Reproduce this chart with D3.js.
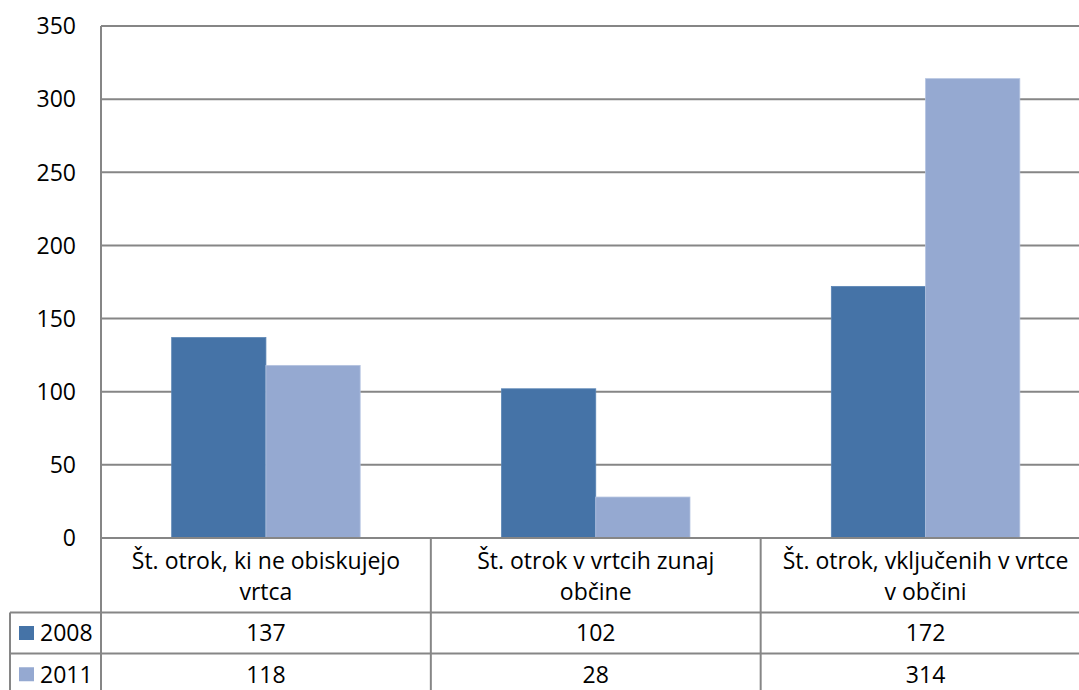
<!DOCTYPE html>
<html>
<head>
<meta charset="utf-8">
<script src="https://cdn.jsdelivr.net/npm/d3@7"></script>
<style>
  body { margin: 0; background: #fff; }
  text { font-family: "Open Sans", "Noto Sans", sans-serif; fill: #000; }
</style>
</head>
<body>
<svg id="chart" width="1079" height="690"></svg>
<script>
// data
var categories = [
  ["Št. otrok, ki ne obiskujejo", "vrtca"],
  ["Št. otrok v vrtcih zunaj", "občine"],
  ["Št. otrok, vključenih v vrtce", "v občini"]
];
var seriesNames = ["2008", "2011"];
var values2008 = [137, 102, 172];
var values2011 = [118, 28, 314];
var yTicks = [0, 50, 100, 150, 200, 250, 300, 350];

var colors = ["#4573A7", "#95A9D1"];
var gridColor = "#868686";
var fontSize = 23;

var svg = d3.select("svg#chart"),
    margin = {top: 26, left: 101, bottom: 538},
    plotRight = 1090.5,
    tableLeft = 10,
    row1 = 612.5,
    row2 = 653.5,
    row3 = 695;

var series = [values2008, values2011];

var x = d3.scaleBand()
  .domain(d3.range(categories.length))
  .range([margin.left, plotRight])
  .paddingInner(0).paddingOuter(0);

// gap width 150% like excel
var inner = d3.scaleBand()
  .domain(d3.range(series.length))
  .range([0, x.bandwidth()])
  .paddingOuter(0.75).paddingInner(0);

var y = d3.scaleLinear()
  .domain([0, 350])
  .range([margin.bottom, margin.top]);

// gridlines
svg.append("g")
  .selectAll("line")
  .data(yTicks.filter(function(d) { return d > 0; }))
  .enter().append("line")
  .attr("x1", margin.left).attr("x2", plotRight)
  .attr("y1", function(d) { return y(d); })
  .attr("y2", function(d) { return y(d); })
  .attr("stroke", gridColor).attr("stroke-width", 2);

// bars
series.forEach(function(vals, si) {
  svg.append("g")
    .selectAll("rect")
    .data(vals)
    .enter().append("rect")
    .attr("x", function(d, i) { return x(i) + inner(si); })
    .attr("y", function(d) { return y(d); })
    .attr("width", inner.bandwidth())
    .attr("height", function(d) { return y(0) - y(d); })
    .attr("fill", colors[si])
    .attr("stroke", si == 0 ? "#5a84b4" : "#b4c3e0")
    .attr("stroke-width", 0.8);
});

// y axis labels
svg.append("g")
  .selectAll("text")
  .data(yTicks)
  .enter().append("text")
  .attr("x", 76)
  .attr("y", function(d) { return y(d); })
  .attr("dy", "0.36em")
  .attr("text-anchor", "end")
  .style("font-size", fontSize + "px")
  .text(function(d) { return d; });

// table lines
var lines = svg.append("g")
  .attr("stroke", gridColor).attr("stroke-width", 2);

lines.append("line")
  .attr("x1", margin.left).attr("x2", margin.left)
  .attr("y1", margin.top).attr("y2", row3);
lines.append("line")
  .attr("x1", margin.left).attr("x2", plotRight)
  .attr("y1", y(0)).attr("y2", y(0));
[row1, row2].forEach(function(r) {
  lines.append("line")
    .attr("x1", tableLeft).attr("x2", plotRight)
    .attr("y1", r).attr("y2", r);
});
lines.append("line")
  .attr("x1", tableLeft).attr("x2", tableLeft)
  .attr("y1", row1).attr("y2", row3);
d3.range(1, categories.length + 1).forEach(function(i) {
  var xx = margin.left + i * x.bandwidth();
  lines.append("line")
    .attr("x1", xx).attr("x2", xx)
    .attr("y1", y(0)).attr("y2", row3);
});

// category labels
var cat = svg.append("g")
  .selectAll("text")
  .data(categories)
  .enter().append("text")
  .attr("text-anchor", "middle")
  .style("font-size", fontSize + "px");
cat.each(function(d, i) {
  var t = d3.select(this);
  d.forEach(function(line, li) {
    t.append("tspan")
      .attr("x", x(i) + x.bandwidth() / 2)
      .attr("y", 569 + li * 31)
      .text(line);
  });
});

// data rows
var rows = [row1, row2];
series.forEach(function(vals, si) {
  var midY = (rows[si] + (si == 0 ? row2 : row3)) / 2;
  svg.append("rect")
    .attr("x", 19).attr("y", midY - 7)
    .attr("width", 15).attr("height", 14)
    .attr("fill", colors[si]);
  svg.append("text")
    .attr("x", 40).attr("y", midY)
    .attr("dy", "0.36em")
    .style("font-size", fontSize + "px")
    .text(seriesNames[si]);
  svg.append("g")
    .selectAll("text")
    .data(vals)
    .enter().append("text")
    .attr("x", function(d, i) { return x(i) + x.bandwidth() / 2; })
    .attr("y", midY)
    .attr("dy", "0.36em")
    .attr("text-anchor", "middle")
    .style("font-size", fontSize + "px")
    .text(function(d) { return d; });
});
</script>
</body>
</html>
